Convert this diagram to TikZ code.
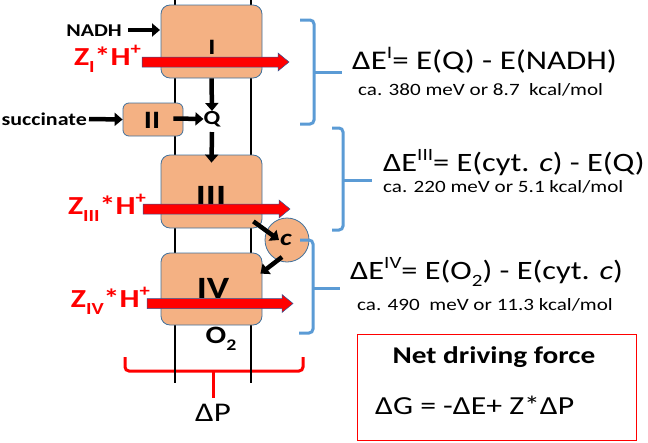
\documentclass[tikz,border=0pt]{standalone}
\usepackage{fontspec}
\setmainfont{Carlito}[FakeStretch=1.22]
\usetikzlibrary{arrows.meta,calc}
\definecolor{boxfill}{HTML}{F4B183}
\definecolor{boxline}{HTML}{41719C}
\definecolor{brblue}{HTML}{5B9BD5}
\definecolor{arrline}{HTML}{2F5597}
\newcommand\mysub[1]{\raisebox{-0.28em}{\scalebox{0.65}{#1}}}
\newcommand\mysup[1]{\raisebox{0.42em}{\scalebox{0.65}{#1}}}
\newcommand\fs[1]{\fontsize{#1}{#1}\selectfont}
\newcommand\myredarrow[2]{%
  \draw[redblock] let \p1=(#1), \p2=(#2) in
  (\x1,\y1+5pt) -- (\x2-11pt,\y1+5pt) -- (\x2-11pt,\y1+9pt) -- (\x2,\y1) --
  (\x2-11pt,\y1-9pt) -- (\x2-11pt,\y1-5pt) -- (\x1,\y1-5pt) -- cycle;}
\begin{document}
\begin{tikzpicture}[x=1pt,y=-1pt,
  complex/.style={draw=boxline, line width=0.8pt, fill=boxfill, rounded corners=9pt, inner sep=0pt},
  memb/.style={line width=2pt, black},
  redblock/.style={fill=red, draw=arrline, line width=0.5pt},
  blkarrow/.style={line width=4.5pt, black, -{Triangle[length=8pt,width=13pt]}},
  bluebr/.style={line width=3pt, brblue, rounded corners=4pt},
  redbr/.style={line width=3pt, red, rounded corners=4pt},
  lbl/.style={inner sep=0pt},
  zlbl/.style={inner sep=0pt, anchor=base east, text=red, font=\bfseries\fs{26}}]
\useasboundingbox (0,0) rectangle (648,442);
% red bracket (Delta P)
\draw[redbr] (125,357) -- (125,371) -- (303,371) -- (303,357);
\coordinate (dpt) at (213,371);
\node[lbl, font=\fs{27}, anchor=center] (dp) at (213,413) {ΔP};
\draw[line width=3pt, red] (dpt) -- (213,398);
% membrane lines
\coordinate (mlt) at (175,0);
\coordinate (mlb) at (175,383);
\coordinate (mrt) at (251,0);
\coordinate (mrb) at (251,383);
\draw[memb] (mlt) -- (mlb);
\draw[memb] (mrt) -- (mrb);
% complexes
\node[complex, minimum width=101pt, minimum height=73pt] (I) at (211.5,41.5) {};
\node[complex, minimum width=60pt, minimum height=33pt, rounded corners=6pt] (II) at (153,119.5) {};
\node[complex, minimum width=101pt, minimum height=73pt] (III) at (211.5,191.5) {};
\node[complex, minimum width=101pt, minimum height=72pt] (IV) at (211.5,289) {};
\node[draw=boxline, line width=0.8pt, fill=boxfill, circle, minimum size=44pt, inner sep=0pt] (c) at (287,240) {};
\node[lbl, font=\bfseries\itshape\fs{23}] (ct) at (286,240) {c};
% complex labels
\node[lbl, font=\bfseries\fs{22}] (lI) at (212,47) {I};
\node[lbl, font=\bfseries\fs{25}] (lII) at (152,120) {II};
\node[lbl, font=\bfseries\fs{31}] (lIII) at (211,196) {III};
\node[lbl, font=\bfseries\fs{31}] (lIV) at (213,288) {IV};
\node[lbl, font=\bfseries\fs{20}] (Q) at (212,119) {Q};
\node[lbl, font=\bfseries\fs{25}] (O2) at (221,339) {O\mysub{2}};
% substrates
\node[lbl, font=\bfseries\fs{18}, anchor=east] (nadh) at (122,31) {NADH};
\node[lbl, font=\bfseries\fs{18}, anchor=east] (succ) at (87,119) {succinate};
% black arrows
\draw[blkarrow] (nadh.east) ++(6,-1) -- (160,30);
\draw[blkarrow] (succ.east) ++(2,0) -- (II.west);
\draw[blkarrow] (II.east) ++(-10,-1) -- (Q.west);
\draw[blkarrow] (I.south) ++(0,0) -- (Q.north);
\draw[blkarrow] (Q.south) ++(0,5) -- ($(III.north)+(0,8)$);
\draw[blkarrow] ($(III.south east)+(-9,-7)$) -- ($(c.center)+(-8,0)$);
\draw[blkarrow] ($(c.center)+(-5,17)$) -- ($(IV.north east)+(-2,21)$);
% red proton arrows
\coordinate (aIs) at (142,62);
\coordinate (aIe) at (289,62);
\coordinate (aIIIs) at (143,209);
\coordinate (aIIIe) at (290,209);
\coordinate (aIVs) at (147,303.5);
\coordinate (aIVe) at (293,303.5);
\myredarrow{aIs}{aIe}
\myredarrow{aIIIs}{aIIIe}
\myredarrow{aIVs}{aIVe}
\node[zlbl] (zI) at (141,65) {Z\mysub{I}*H\mysup{+}};
\node[zlbl] (zIII) at (146,214) {Z\mysub{III}*H\mysup{+}};
\node[zlbl] (zIV) at (150,307) {Z\mysub{IV}*H\mysup{+}};
% blue brackets
\draw[bluebr] (300,20) -- (314,20) -- (314,124) -- (300,124);
\draw[line width=3pt, brblue] (314,72) -- (342,72);
\draw[bluebr] (332,128) -- (343,128) -- (343,230) -- (332,230);
\draw[line width=3pt, brblue] (343,180) -- (372,180);
\draw[bluebr] (300,240) -- (313,240) -- (313,333) -- (299,333);
\draw[line width=3pt, brblue] (313,288) -- (340,288);
% equations
\node[lbl, anchor=west, font=\fs{27}] (eI) at (352,60) {ΔE\mysup{I}= E(Q) - E(NADH)};
\node[lbl, anchor=west, font=\fs{17.3}] (eIs) at (358,90) {ca. 380 meV or 8.7 \ kcal/mol};
\node[lbl, anchor=west, font=\fs{26.5}] (eIII) at (383,163) {ΔE\mysup{III}= E(cyt. \textit{c}) - E(Q)};
\node[lbl, anchor=west, font=\fs{17.3}] (eIIIs) at (383,187) {ca. 220 meV or 5.1 kcal/mol};
\node[lbl, anchor=west, font=\fs{26.5}] (eIV) at (350,272) {ΔE\mysup{IV}= E(O\mysub{2}) - E(cyt. \textit{c})};
\node[lbl, anchor=west, font=\fs{17.3}] (eIVs) at (357,305) {ca. 490 \ meV or 11.3 kcal/mol};
% net driving force box
\node[draw=red, line width=1pt, minimum width=279pt, minimum height=106pt, inner sep=0pt] (net) at (496.5,387) {};
\node[lbl, font=\bfseries\fs{24}] (nett) at (494,357) {Net driving force};
\node[lbl, anchor=west, font=\fs{26}] (dg) at (375,405) {ΔG = -ΔE+ Z*ΔP};
\end{tikzpicture}
\end{document}
